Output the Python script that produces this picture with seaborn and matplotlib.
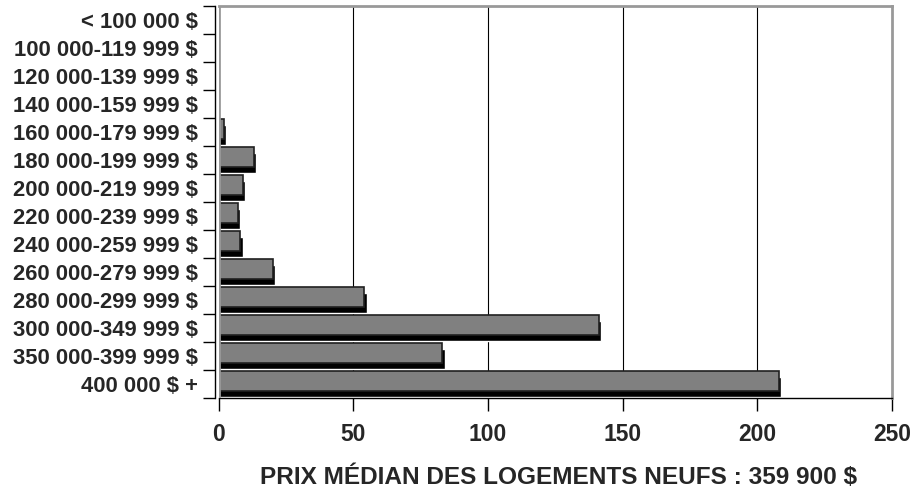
import numpy as np
import pandas as pd
import seaborn as sns
import matplotlib.pyplot as plt

categories = ['< 100 000 $', '100 000-119 999 $', '120 000-139 999 $', '140 000-159 999 $',
              '160 000-179 999 $', '180 000-199 999 $', '200 000-219 999 $', '220 000-239 999 $',
              '240 000-259 999 $', '260 000-279 999 $', '280 000-299 999 $', '300 000-349 999 $',
              '350 000-399 999 $', '400 000 $ +']
values = [0, 0, 0, 0, 2, 13, 9, 7, 8, 20, 54, 141, 83, 208]
x_ticks = [0, 50, 100, 150, 200, 250]
title = 'PRIX MÉDIAN DES LOGEMENTS NEUFS : 359 900 $'

sns.set_style('white')
plt.rcParams['font.family'] = ['Liberation Sans', 'DejaVu Sans']
plt.rcParams['font.weight'] = 'bold'

df = pd.DataFrame({'cat': categories, 'val': values})

fig = plt.figure(figsize=(9.15, 4.9), dpi=100)
ax = fig.add_axes([0.239, 0.188, 0.736, 0.8])

# black drop shadow behind each bar
pos = np.arange(len(categories))
vals = np.array(values)
shadow = ax.barh(pos + 0.12, vals + 0.9, height=0.72, color='black', zorder=2)
for b, v in zip(shadow, values):
    if v == 0:
        b.set_visible(False)
sns.barplot(data=df, x='val', y='cat', color='#808080', orient='h', width=0.72,
            edgecolor='#202020', linewidth=1.2, saturation=1, ax=ax, zorder=3)
for p in ax.patches[len(categories):]:
    p.set_y(p.get_y() - 0.1)
    if p.get_width() == 0:
        p.set_visible(False)

ax.set_xlim(0, 250)
ax.set_ylim(len(categories) - 0.5, -0.5)
ax.set_xticks(x_ticks)
ax.set_xticklabels([str(t) for t in x_ticks])
ax.tick_params(axis='x', direction='out', length=9, width=1, color='black', pad=9,
               bottom=True, labelsize=16.5)
ax.set_yticks(pos)
ax.set_yticklabels(categories)
ax.set_yticks(np.arange(-0.5, len(categories), 1), minor=True)
ax.tick_params(axis='y', which='major', length=0, pad=12, labelsize=15.8)
ax.tick_params(axis='y', which='minor', direction='out', length=9, width=1, color='black', left=True)
for lab in ax.get_xticklabels() + ax.get_yticklabels():
    lab.set_fontweight('bold')

for t in x_ticks[1:-1]:
    ax.axvline(t, color='black', lw=0.8, zorder=1)

ax.set_ylabel('')
ax.set_xlabel(title, fontsize=17.6, fontweight='bold', va='center')
ax.xaxis.set_label_coords(0.505, -0.2015)

for s in ['top', 'right']:
    ax.spines[s].set_color('#999999')
    ax.spines[s].set_linewidth(2)
ax.spines['left'].set_color('black')
ax.spines['left'].set_linewidth(1)
ax.spines['left'].set_position(('outward', 3))
ax.spines['bottom'].set_color('black')
ax.spines['bottom'].set_linewidth(1)
ax.axvline(0, color='#999999', lw=2, zorder=4)

plt.savefig('out.png', dpi=100)
